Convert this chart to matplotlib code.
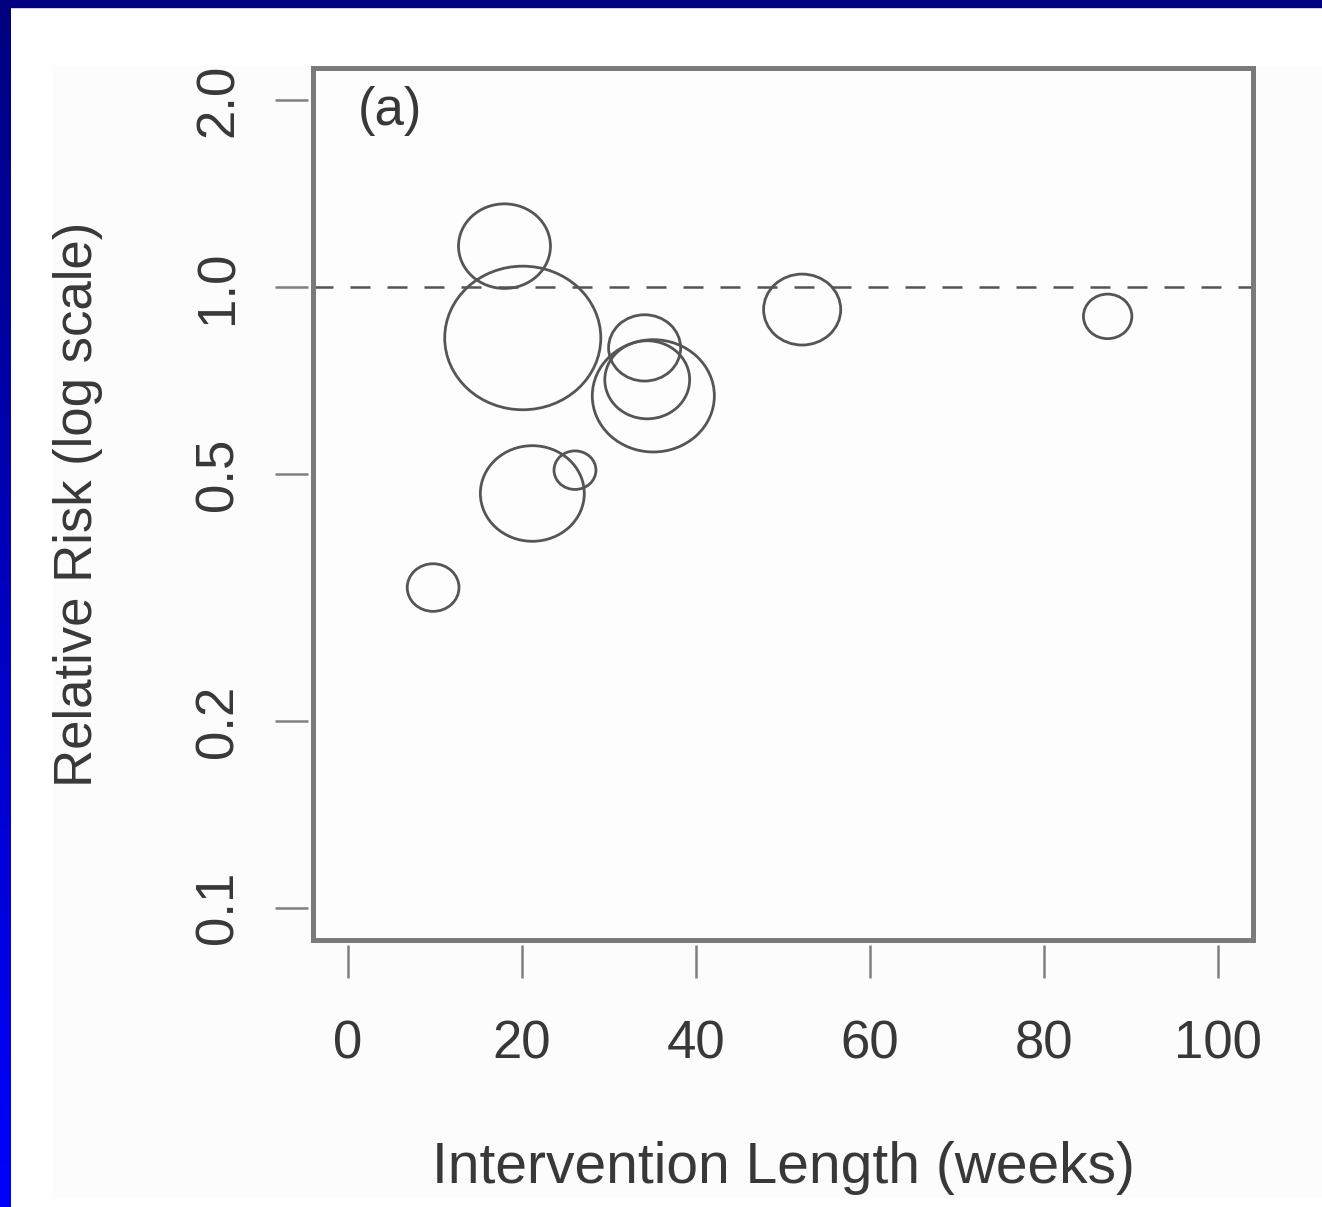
import numpy as np
import matplotlib
matplotlib.use("Agg")
import matplotlib.pyplot as plt
from matplotlib.patches import Rectangle
from matplotlib.path import Path
from matplotlib.transforms import Affine2D

# studies: intervention length (weeks), relative risk, study weight (%)
weeks = [18.0, 20.1, 21.2, 26.1, 9.8, 34.1, 34.4, 35.1, 52.2, 87.3]
rel_risk = [1.164, 0.828, 0.465, 0.507, 0.328, 0.798, 0.709, 0.668, 0.920, 0.897]
weight = [10.1, 29.1, 12.9, 2.1, 3.2, 6.2, 8.6, 17.8, 7.1, 2.8]

x_ticks = [0, 20, 40, 60, 80, 100]
y_ticks = [0.1, 0.2, 0.5, 1.0, 2.0]
y_tick_labels = ["0.1", "0.2", "0.5", "1.0", "2.0"]

plt.rcParams['font.family'] = ['Liberation Sans', 'DejaVu Sans']

W, H = 1322, 1207
fig = plt.figure(figsize=(W / 100, H / 100), dpi=100)
fig.patch.set_facecolor("white")

# light panel behind the plot
fig.patches.append(Rectangle((53 / W, 1 - 1197 / H), 1, (1197 - 66) / H,
                             transform=fig.transFigure, color="#fcfcfc", zorder=-10))

# blue slide borders
fig.patches.append(Rectangle((0, 1 - 7 / H), 1, 7 / H, transform=fig.transFigure,
                             color="#000080", zorder=-5))
bar = fig.add_axes([0, 0, 11 / W, 1])
grad = np.zeros((200, 1, 3))
grad[:, 0, 2] = np.linspace(128, 255, 200) / 255
bar.imshow(grad, aspect="auto", extent=(0, 1, 0, 1))
bar.axis("off")

gray = "#7a7a7a"
txt = "#383838"

ax = fig.add_axes([313 / W, 1 - 940 / H, 940 / W, 872 / H])
ax.set_facecolor("#fdfdfd")
ax.set_yscale("log")
ax.set_xlim(-4, 104)
ax.set_ylim(10 ** -1.052, 10 ** 0.353)

# box drawn separately, ticks detached like R
for s in ax.spines.values():
    s.set_visible(False)
ax.spines["bottom"].set_position(("outward", 3.6))
ax.spines["left"].set_position(("outward", 3.6))
ax.add_patch(Rectangle((0, 0), 1, 1, transform=ax.transAxes, fill=False,
                       lw=3.6, ec=gray, clip_on=False, zorder=5))

ax.set_xticks(x_ticks)
ax.set_xticklabels([str(v) for v in x_ticks])
ax.set_yticks(y_ticks)
ax.set_yticklabels(y_tick_labels)
ax.yaxis.set_minor_locator(matplotlib.ticker.NullLocator())
ax.tick_params(axis="both", length=23.5, width=1.8, color="#808080",
               labelsize=38, labelcolor=txt)
ax.tick_params(axis="x", pad=30)
ax.tick_params(axis="y", labelrotation=90, pad=23)
for lab in ax.get_yticklabels():
    lab.set_va("center")

# reference line at RR = 1
ax.axhline(1.0, color="#555555", lw=1.8, linestyle=(0, (8.0, 6.8)), zorder=2)

# bubbles (slightly squashed as in the source image)
ell = Path.unit_circle().transformed(Affine2D().scale(1, 0.92))
ax.scatter(weeks, rel_risk, s=np.array(weight) * 434, marker=ell,
           facecolors="none", edgecolors="#555555", linewidths=2.0, zorder=3)

ax.text(0.048, 0.951, "(a)", transform=ax.transAxes, fontsize=38, color=txt,
        ha="left", va="center")

ax.set_xlabel("Intervention Length (weeks)", fontsize=41, color=txt)
ax.xaxis.set_label_coords(0.5, -0.2615)
ax.xaxis.label.set_va("center")
ax.set_ylabel("Relative Risk (log scale)", fontsize=38, color=txt)
ax.yaxis.set_label_coords(-0.25, 0.5)
ax.yaxis.label.set_va("center")
ax.yaxis.label.set_ha("center")

plt.savefig("out.png", dpi=100)
